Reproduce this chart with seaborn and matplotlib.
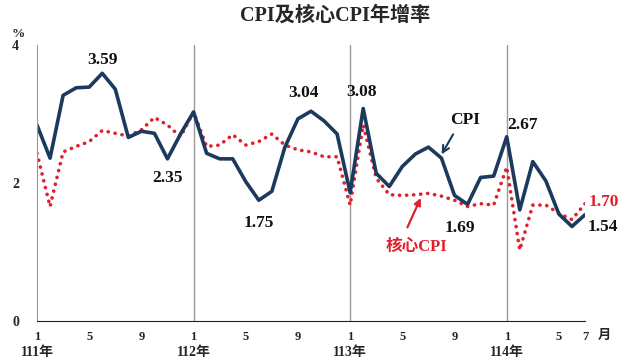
import numpy as np
import pandas as pd
import seaborn as sns
import matplotlib.pyplot as plt

# monthly YoY growth, 111年1月 .. 114年7月
cpi = [2.84, 2.36, 3.27, 3.38, 3.39, 3.59, 3.36, 2.66, 2.75, 2.72, 2.35, 2.71,
       3.03, 2.43, 2.35, 2.35, 2.02, 1.75, 1.88, 2.52, 2.93, 3.04, 2.90, 2.71,
       1.86, 3.08, 2.14, 1.95, 2.24, 2.42, 2.52, 2.36, 1.82, 1.69, 2.08, 2.10,
       2.67, 1.61, 2.31, 2.03, 1.55, 1.37, 1.54]
core = [2.43, 1.66, 2.45, 2.53, 2.60, 2.76, 2.72, 2.68, 2.77, 2.95, 2.84, 2.67,
        3.03, 2.53, 2.55, 2.70, 2.55, 2.60, 2.71, 2.55, 2.48, 2.45, 2.38, 2.38,
        1.68, 2.84, 2.07, 1.83, 1.82, 1.83, 1.85, 1.81, 1.75, 1.66, 1.70, 1.68,
        2.23, 1.03, 1.68, 1.68, 1.56, 1.47, 1.70]
years = ["111年", "112年", "113年", "114年"]
month_labels = {0: "1", 4: "5", 8: "9"}

# CPI points that get a value label
cpi_labels = [5, 10, 17, 21, 25, 33, 36, 42]

df = pd.DataFrame({"idx": np.arange(len(cpi)), "CPI": cpi, "core": core})

sns.set_style("white")
plt.rcParams["font.family"] = ["Liberation Serif", "Noto Sans CJK TC", "DejaVu Sans"]
plt.rcParams["font.weight"] = "bold"

navy = "#1c3a5e"
red = "#e0202c"

fig = plt.figure(figsize=(6.4, 3.6), dpi=100)
ax = fig.add_axes([37 / 640, 1 - 321 / 360, 548 / 640, 276 / 360])

for yr in (12, 24, 36):
    ax.axvline(yr, color="#9a9a9a", lw=1, zorder=0)

sns.lineplot(data=df, x="idx", y="core", color=red, lw=2.6, ax=ax,
             linestyle=(0, (0.05, 1.9)), dash_capstyle="round")
sns.lineplot(data=df, x="idx", y="CPI", color=navy, lw=2.6, ax=ax)

ax.set_xlim(0, len(cpi) - 1)
ax.set_ylim(0, 4)
ax.set_xlabel("")
ax.set_ylabel("")
sns.despine(ax=ax)
ax.spines["left"].set_color("#9a9a9a")
ax.spines["bottom"].set_color("#222222")

ax.set_yticks([0, 2, 4])
ax.set_yticklabels(["0", "2", "4"], fontsize=10, fontweight="bold")
ax.tick_params(axis="y", direction="out", length=3, width=1, pad=10, color="#222222")

ax.set_xticks(np.arange(len(cpi)))
xt = [month_labels.get(i % 12, "") for i in range(len(cpi))]
xt[-1] = "7"
ax.set_xticklabels(xt, fontsize=9, fontweight="bold")
ax.tick_params(axis="x", direction="in", length=4, width=0.8, pad=7, color="#222222")

for k, yr in enumerate(years):
    ax.text(k * 12, -0.113, yr, ha="center", va="center", fontsize=10,
            fontweight="bold", transform=ax.get_xaxis_transform(), clip_on=False)
ax.text(43.5, -0.055, "月", ha="center", va="center", fontsize=9.5, fontweight="bold",
        transform=ax.get_xaxis_transform(), clip_on=False)

# value labels
offsets = {5: (0.0, 0.19), 10: (0.0, -0.28), 17: (0.0, -0.33), 21: (-0.6, 0.26),
           25: (-0.1, 0.24), 33: (-0.6, -0.34), 36: (1.2, 0.17), 42: (1.4, -0.18)}
for i in cpi_labels:
    dx, dy = offsets[i]
    ax.text(i + dx, cpi[i] + dy, f"{cpi[i]:.2f}", ha="center", va="center",
            fontsize=12.5, fontweight="bold", color="#111111", clip_on=False)
ax.text(len(core) - 1 + 1.45, core[-1] + 0.02, f"{core[-1]:.2f}", ha="center",
        va="center", fontsize=12.5, fontweight="bold", color=red, clip_on=False)

# series labels with arrows
ax.annotate("", xy=(30.9, 2.38), xytext=(32.0, 2.74),
            arrowprops=dict(arrowstyle="->", color=navy, lw=1.5, mutation_scale=12))
ax.text(32.8, 2.91, "CPI", ha="center", va="center", fontsize=12.5,
        fontweight="bold", color="#111111")
ax.annotate("", xy=(29.5, 1.82), xytext=(28.3, 1.32),
            arrowprops=dict(arrowstyle="-|>", color=red, lw=1.6, mutation_scale=10))
ax.text(29.1, 1.07, "核心CPI", ha="center", va="center", fontsize=12,
        fontweight="bold", color=red)

fig.text(18 / 640, 1 - 34 / 360, "%", ha="center", va="center", fontsize=9.5,
         fontweight="bold")
fig.text(335 / 640, 1 - 16 / 360, "CPI及核心CPI年增率", ha="center", va="center",
         fontsize=14.5, fontweight="bold")

fig.savefig("out.png", dpi=100)
